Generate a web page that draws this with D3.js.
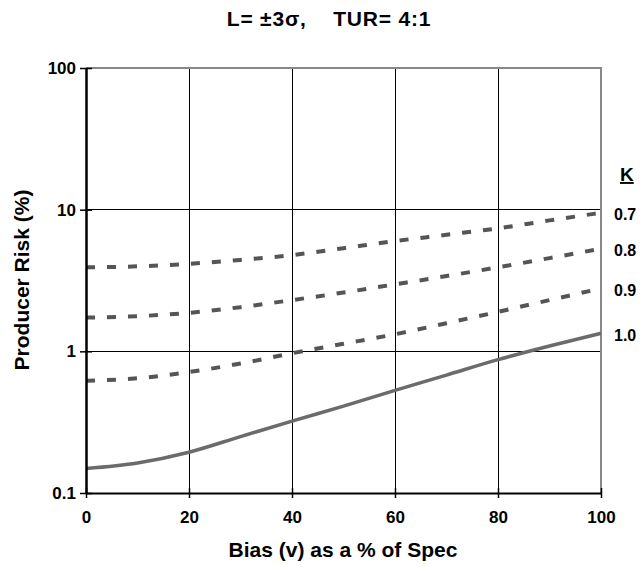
<!DOCTYPE html>
<html>
<head>
<meta charset="utf-8">
<script src="https://cdn.jsdelivr.net/npm/d3@7"></script>
<style>
  body { margin: 0; background: #fff; }
  svg { display: block; font-family: "Liberation Sans", Arial, sans-serif; }
</style>
</head>
<body>
<svg id="chart" width="641" height="567"></svg>
<script>
// Bias as a percentage of spec
const bias = [0, 10, 20, 30, 40, 50, 60, 70, 80, 90, 100];
// Producer risk (%) for each K value
const kLabels = ["0.7", "0.8", "0.9", "1.0"];
const riskK07 = [3.92, 3.98, 4.15, 4.42, 4.78, 5.35, 6.0, 6.65, 7.38, 8.4, 9.5];
const riskK08 = [1.73, 1.77, 1.87, 2.05, 2.30, 2.6, 2.97, 3.4, 3.92, 4.55, 5.3];
const riskK09 = [0.62, 0.645, 0.714, 0.82, 0.97, 1.13, 1.32, 1.58, 1.90, 2.3, 2.78];
const riskK10 = [0.149, 0.163, 0.194, 0.25, 0.322, 0.41, 0.53, 0.68, 0.873, 1.09, 1.34];
const xTicks = [0, 20, 40, 60, 80, 100];
const yTicks = [0.1, 1, 10, 100];
const yTickLabels = ["0.1", "1", "10", "100"];

const svg = d3.select("#chart");
const plotLeft = 86, plotRight = 601, plotTop = 68, plotBottom = 493;
const font = "Liberation Sans, Arial, sans-serif";

const x = d3.scaleLinear().domain([0, 100]).range([plotLeft, plotRight]);
const y = d3.scaleLog().domain([0.1, 100]).range([plotBottom, plotTop]);

// Title
svg.append("text")
  .attr("x", 329).attr("y", 26)
  .attr("text-anchor", "middle")
  .attr("font-size", 21).attr("font-weight", "bold")
  .attr("letter-spacing", 0.8)
  .attr("xml:space", "preserve")
  .text("L= \u00B13\u03C3,    TUR= 4:1");

// Grid lines
svg.append("g").selectAll("line")
  .data(xTicks.slice(1, -1)).join("line")
  .attr("x1", d => x(d)).attr("x2", d => x(d))
  .attr("y1", plotTop).attr("y2", plotBottom)
  .attr("stroke", "#000").attr("stroke-width", 1).attr("shape-rendering", "crispEdges");
svg.append("g").selectAll("line")
  .data([1, 10]).join("line")
  .attr("x1", plotLeft).attr("x2", plotRight - 1)
  .attr("y1", d => y(d)).attr("y2", d => y(d))
  .attr("stroke", "#000").attr("stroke-width", 1).attr("shape-rendering", "crispEdges");

// Top and right frame
svg.append("line").attr("x1", plotLeft).attr("x2", plotRight + 1).attr("y1", plotTop).attr("y2", plotTop)
  .attr("stroke", "#888").attr("stroke-width", 2);
svg.append("line").attr("x1", plotRight).attr("x2", plotRight).attr("y1", plotTop).attr("y2", plotBottom)
  .attr("stroke", "#888").attr("stroke-width", 2);

// Series
const series = [
  { k: kLabels[0], v: riskK07, dash: "9,12", color: "#555", w: 4 },
  { k: kLabels[1], v: riskK08, dash: "9,12", color: "#555", w: 4 },
  { k: kLabels[2], v: riskK09, dash: "9,12", color: "#555", w: 4 },
  { k: kLabels[3], v: riskK10, dash: null, color: "#6b6b6b", w: 3.5 }
];
const line = d3.line()
  .x(d => x(d[0])).y(d => y(d[1]))
  .curve(d3.curveMonotoneX);

svg.append("g").selectAll("path")
  .data(series).join("path")
  .attr("d", s => line(bias.map((b, i) => [b, s.v[i]])))
  .attr("fill", "none")
  .attr("stroke", s => s.color)
  .attr("stroke-width", s => s.w)
  .attr("stroke-dasharray", s => s.dash);

// Axes
const yAxis = d3.axisLeft(y).tickValues(yTicks)
  .tickFormat((d, i) => yTickLabels[i]).tickSizeInner(6).tickSizeOuter(0).tickPadding(4);
const gy = svg.append("g").attr("transform", `translate(${plotLeft},0)`).call(yAxis);
gy.select(".domain").attr("stroke", "#000").attr("stroke-width", 2.5);
gy.selectAll(".tick line").attr("x2", -6).attr("x1", 6).attr("stroke-width", 1.5);
gy.selectAll(".tick text").attr("font-size", 17).attr("font-weight", "bold")
  .attr("font-family", font).attr("fill", "#000");

const xAxis = d3.axisBottom(x).tickValues(xTicks).tickSizeInner(5).tickSizeOuter(0).tickPadding(10);
const gx = svg.append("g").attr("transform", `translate(0,${plotBottom})`).call(xAxis);
gx.select(".domain").attr("stroke", "#000").attr("stroke-width", 2);
gx.selectAll(".tick line").attr("y1", -5).attr("y2", 5).attr("stroke-width", 1.5);
gx.selectAll(".tick text").attr("font-size", 17).attr("font-weight", "bold")
  .attr("font-family", font).attr("fill", "#000")
  .attr("dy", null).attr("y", 30);

// Axis titles
svg.append("text")
  .attr("x", 343).attr("y", 557)
  .attr("text-anchor", "middle")
  .attr("font-size", 21).attr("font-weight", "bold")
  .text("Bias (v) as a % of Spec");
svg.append("text")
  .attr("transform", "translate(29,280) rotate(-90)")
  .attr("text-anchor", "middle")
  .attr("font-size", 21).attr("font-weight", "bold")
  .text("Producer Risk (%)");

// K labels at the line ends
svg.append("text")
  .attr("x", 620).attr("y", 181)
  .attr("font-size", 19).attr("font-weight", "bold")
  .attr("text-decoration", "underline")
  .text("K");
svg.append("g").selectAll("text")
  .data(series).join("text")
  .attr("x", 614)
  .attr("y", s => y(s.v[s.v.length - 1]) + 2)
  .attr("dy", "0.35em")
  .attr("font-size", 16).attr("font-weight", "bold")
  .text(s => s.k);
</script>
</body>
</html>
